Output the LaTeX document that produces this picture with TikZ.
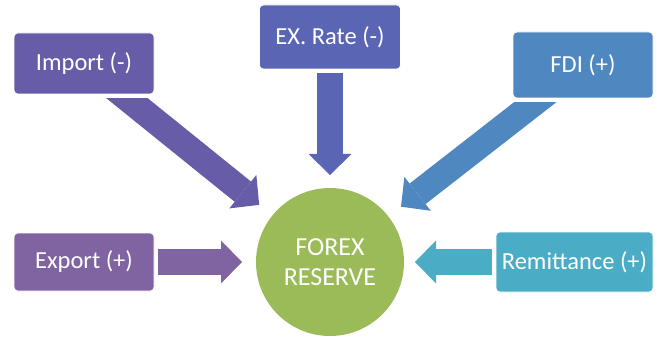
\documentclass[tikz,border=0pt]{standalone}
\usepackage{fontspec}
\setmainfont{Carlito}
\usetikzlibrary{arrows.meta}
\definecolor{cImport}{HTML}{675CA8}
\definecolor{cRate}{HTML}{5A66B4}
\definecolor{cFdi}{HTML}{4F87C0}
\definecolor{cExport}{HTML}{8064A2}
\definecolor{cRemit}{HTML}{4BACC6}
\definecolor{cForex}{HTML}{9BBB59}
\begin{document}
\begin{tikzpicture}[x=1pt,y=-1pt,
  box/.style={rectangle, rounded corners=4pt, inner sep=0pt, outer sep=0pt,
    text=white, draw=white, line width=0.6pt,
    font=\fontsize{24.5}{29}\selectfont},
  hub/.style={circle, fill=cForex, minimum size=148pt, inner sep=0pt, outer sep=0pt,
    text=white, align=center, font=\fontsize{26}{30}\selectfont},
  bigarrow/.style={line width=26pt, -{Triangle[width=43pt,length=21pt,line width=0pt]}},
]
\useasboundingbox (0,0) rectangle (657,337);

% central circle
\node[hub] (forex) at (330,262) {FOREX\\RESERVE};

% the five factor boxes
\node[box, fill=cImport, minimum width=140pt, minimum height=61pt] (imp) at (84,63.5) {Import (-)};
\node[box, fill=cRate, minimum width=141pt, minimum height=64pt] (exr) at (330,37) {EX. Rate (-)};
\node[box, fill=cFdi, minimum width=140pt, minimum height=66pt] (fdi) at (583,65) {FDI (+)};
\node[box, fill=cExport, minimum width=140pt, minimum height=58pt] (exp) at (84,262) {Export (+)};
\node[box, fill=cRemit, minimum width=157pt, minimum height=60pt] (rem) at (574.5,262) {Remittance (+)};

% diagonal arrows, tails cut level just below their boxes
\begin{scope}
  \clip ([yshift=-5pt]imp.south west) rectangle (forex.center);
  \draw[bigarrow, cImport, shorten >=17pt] (imp.center) -- (forex);
\end{scope}
\begin{scope}
  \clip ([yshift=-5pt]fdi.south east) rectangle (forex.center);
  \draw[bigarrow, cFdi, shorten >=16pt] (fdi.center) -- (forex);
\end{scope}

% straight arrows
\draw[bigarrow, cRate, shorten <=4pt, shorten >=13pt] (exr) -- (forex);
\draw[bigarrow, cExport, shorten <=4pt, shorten >=14pt] (exp) -- (forex);
\draw[bigarrow, cRemit, shorten <=4pt, shorten >=11pt] (rem) -- (forex);
\end{tikzpicture}
\end{document}
